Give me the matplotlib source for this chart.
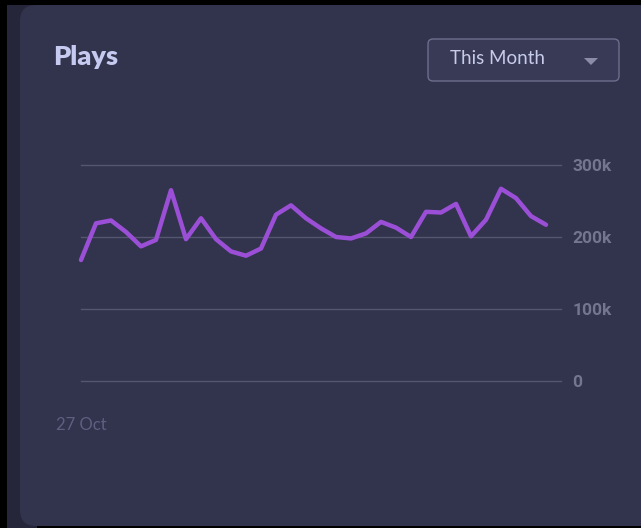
import matplotlib
matplotlib.use("Agg")
import matplotlib.pyplot as plt
from matplotlib.patches import FancyBboxPatch, Rectangle, Polygon

# daily plays for the month
plays = [168, 219, 223, 207, 187, 196, 265, 197, 226, 197, 180, 174, 184, 231,
         244, 226, 212, 200, 198, 205, 221, 213, 200, 235, 234, 246, 201, 224,
         267, 254, 229, 217]
plays = [v * 1000 for v in plays]
y_ticks = [0, 100000, 200000, 300000]
y_labels = ["0", "100k", "200k", "300k"]
x_labels = ["27 Oct"]

W, H = 641, 528
fig = plt.figure(figsize=(W / 100, H / 100), dpi=100, facecolor="black")

# background / card layer in pixel coordinates
bg = fig.add_axes([0, 0, 1, 1])
bg.set_xlim(0, W)
bg.set_ylim(H, 0)
bg.axis("off")
bg.add_patch(Rectangle((7, 5), 30, H, facecolor="#26263a", edgecolor="none"))
bg.add_patch(FancyBboxPatch((20, 5), 700, 521, boxstyle="round,pad=0,rounding_size=16",
                            facecolor="#32334d", edgecolor="none"))
bg.text(53, 57, "Plays", fontsize=19.5, fontweight="heavy", family="Lato",
        color="#c6caf0", va="center", ha="left")

# month selector
bg.add_patch(FancyBboxPatch((428, 39), 191, 42, boxstyle="round,pad=0,rounding_size=5",
                            facecolor="#383a56", edgecolor="#6c6e8c", linewidth=1))
bg.text(450, 59, "This Month", fontsize=13.5, family="Lato", color="#c9cce8",
        va="center", ha="left")
bg.add_patch(Polygon([(584, 58), (598, 58), (591, 65)], closed=True,
                     facecolor="#8c8ca8", edgecolor="none"))

# chart area
left, right, top, bottom = 81, 561, 165, 381
ax = fig.add_axes([left / W, 1 - bottom / H, (right - left) / W, (bottom - top) / H])
ax.set_facecolor("none")
ax.plot(range(len(plays)), plays, color="#9b4fd6", linewidth=3.2,
        solid_joinstyle="round", solid_capstyle="round", clip_on=False, zorder=3)
ax.set_xlim(0, 32)
ax.set_ylim(0, 300000)
for v in y_ticks:
    ax.axhline(v, color="#55566f", linewidth=1, zorder=1, clip_on=False)
for s in ax.spines.values():
    s.set_visible(False)
ax.yaxis.tick_right()
ax.set_yticks(y_ticks)
ax.set_yticklabels(y_labels, fontsize=12.5, fontweight="bold", family="Roboto",
                   color="#74768f")
ax.set_xticks([0])
ax.set_xticklabels(x_labels, fontsize=12, family="Lato", color="#5e6080")
ax.tick_params(axis="y", length=0, pad=8)
ax.tick_params(axis="x", length=0, pad=26)

fig.savefig("out.png", dpi=100, facecolor="black")
